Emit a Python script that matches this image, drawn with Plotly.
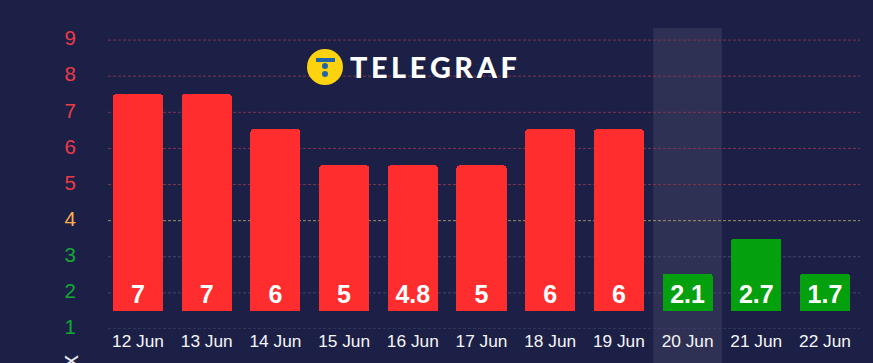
import plotly.graph_objects as go

days = ["12 Jun", "13 Jun", "14 Jun", "15 Jun", "16 Jun", "17 Jun", "18 Jun", "19 Jun", "20 Jun", "21 Jun", "22 Jun"]
labels = ["7", "7", "6", "5", "4.8", "5", "6", "6", "2.1", "2.7", "1.7"]
bar_top = [7.5, 7.5, 6.53, 5.53, 5.53, 5.53, 6.53, 6.53, 2.53, 3.5, 2.53]
bar_base = [1.5] * 11
bar_colors = ["#ff2d2d"] * 8 + ["#05a00e"] * 3
levels = [1, 2, 3, 4, 5, 6, 7, 8, 9]
level_colors = ["#12a833"] * 3 + ["#fbb04e"] + ["#ec3a47"] * 5
grid_colors = ["#44476e"] * 3 + ["#a08f6a"] + ["#80344f"] * 5
today = "20 Jun"

W, H = 873, 363
L, R, B = 108, 13, 34
PW, PH = W - L - R, H - B


def px(x):
    return (x - L) / PW


def py(y):
    return (H - B - y) / PH


xs = list(range(len(days)))
fig = go.Figure()
fig.add_bar(x=xs, y=bar_base, width=0.728, marker=dict(color="rgba(0,0,0,0)", line=dict(width=0)),
            hoverinfo="skip")
fig.add_bar(
    x=xs,
    y=[t - b for t, b in zip(bar_top, bar_base)],
    width=0.728,
    marker=dict(color=bar_colors, line=dict(width=0)),
    text=labels,
    textposition="inside",
    insidetextanchor="start",
    textangle=0,
    constraintext="none",
    textfont=dict(family="Liberation Sans", size=25, color="white", weight="bold"),
    hoverinfo="skip",
)

shapes = [
    dict(type="rect", xref="x", yref="paper", x0=7.5, x1=8.5, y0=-0.2, y1=py(28),
         fillcolor="#2f3154", line=dict(width=0), layer="below")
]
for lv, c in zip(levels, grid_colors):
    shapes.append(dict(type="line", xref="paper", yref="y", x0=0, x1=1, y0=lv, y1=lv,
                       line=dict(color=c, width=1, dash="3px,2px"), layer="between"))
# logo
shapes += [
    dict(type="circle", xref="paper", yref="paper", x0=px(307), x1=px(343), y0=py(85), y1=py(49),
         fillcolor="#fdd20e", line=dict(width=0), layer="above"),
    dict(type="rect", xref="paper", yref="paper", x0=px(316), x1=px(335), y0=py(62), y1=py(58),
         fillcolor="#1f65a8", line=dict(width=0), layer="above"),
    dict(type="circle", xref="paper", yref="paper", x0=px(322), x1=px(328), y0=py(69), y1=py(63),
         fillcolor="#1f65a8", line=dict(width=0), layer="above"),
    dict(type="circle", xref="paper", yref="paper", x0=px(322), x1=px(328), y0=py(77), y1=py(71),
         fillcolor="#1f65a8", line=dict(width=0), layer="above"),
]

fig.update_layout(
    width=W, height=H,
    barmode="stack",
    barcornerradius=3,
    margin=dict(l=L, r=R, t=0, b=B, pad=0),
    paper_bgcolor="#1c2046", plot_bgcolor="#1c2046",
    showlegend=False,
    font=dict(family="Liberation Sans", color="white"),
    xaxis=dict(
        range=[-0.437, 10.51], tickmode="array", tickvals=xs, ticktext=days,
        showgrid=False, zeroline=False, showline=False, ticks="",
        tickfont=dict(size=17.3, color="#f6f6fa"), ticklabelstandoff=0,
    ),
    yaxis=dict(
        range=[1, 10.11], tickmode="array", tickvals=levels,
        ticktext=[f'<span style="color:{c}">{v}</span>' for v, c in zip(levels, level_colors)],
        showgrid=False, zeroline=False, showline=False, ticks="",
        tickfont=dict(size=20.5), ticklabelstandoff=31, ticklabelshift=-2,
    ),
    shapes=shapes,
    annotations=[
        dict(xref="paper", yref="paper", x=px(347.5), y=py(67), xanchor="left", yanchor="middle",
             text="T\u2009E\u2009L\u2009E\u2009G\u2009R\u2009A\u2009F", showarrow=False,
             font=dict(family="Lato", size=28.8, color="white", weight=900)),
        dict(xref="paper", yref="paper", x=px(69), y=py(353), xanchor="center", yanchor="top",
             text="x", textangle=-90, showarrow=False,
             font=dict(family="Liberation Sans", size=24, color="#e8e8f0")),
    ],
)

fig.write_html("out.html", config=dict(displayModeBar=False),
               post_script="document.body.style.margin='0';document.body.style.overflow='hidden';")
